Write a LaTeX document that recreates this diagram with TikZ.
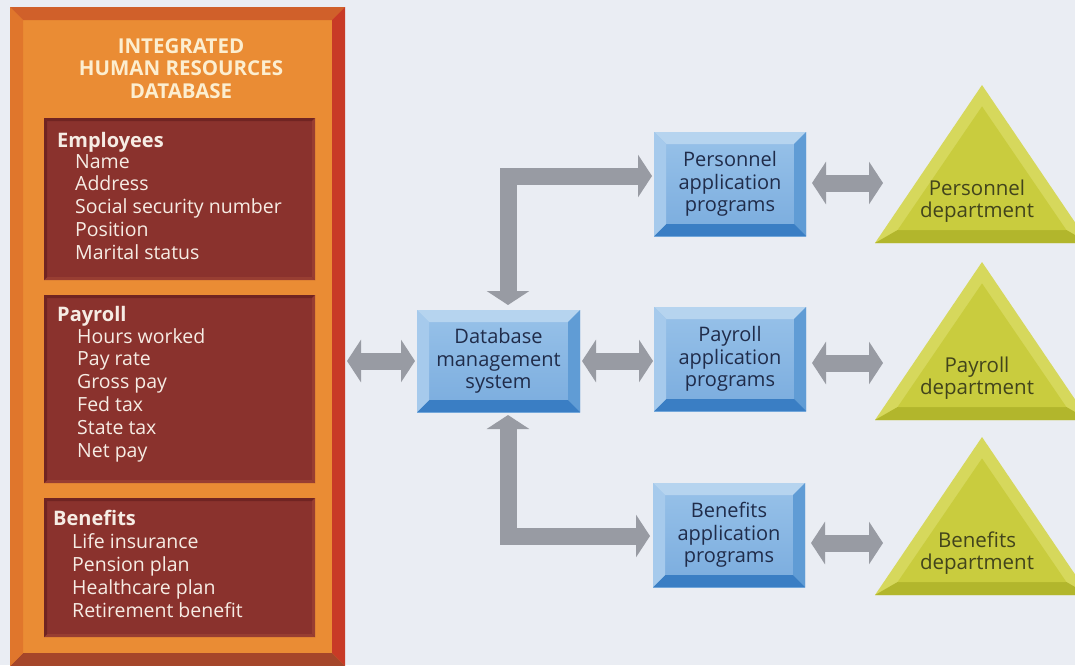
\documentclass[tikz,border=0pt]{standalone}
\usepackage{fontspec}
\setmainfont{Open Sans}
\usetikzlibrary{arrows.meta,calc}

\definecolor{paper}{RGB}{234,237,243}
\definecolor{orface}{RGB}{234,140,52}
\definecolor{ortop}{RGB}{208,96,42}
\definecolor{orright}{RGB}{200,58,38}
\definecolor{orbottom}{RGB}{165,70,42}
\definecolor{orleft}{RGB}{224,118,44}
\definecolor{maroon}{RGB}{138,50,45}
\definecolor{maroonhi}{RGB}{152,62,50}
\definecolor{maroonlo}{RGB}{112,36,34}
\definecolor{cream}{RGB}{252,238,208}
\definecolor{itemtext}{RGB}{246,236,228}
\definecolor{bluetop}{RGB}{152,194,233}
\definecolor{bluebot}{RGB}{122,172,222}
\definecolor{bluebtop}{RGB}{182,212,239}
\definecolor{bluebright}{RGB}{96,156,213}
\definecolor{bluebbot}{RGB}{58,126,196}
\definecolor{bluebleft}{RGB}{166,202,236}
\definecolor{bluetext}{RGB}{32,44,74}
\definecolor{trilight}{RGB}{214,216,92}
\definecolor{triface}{RGB}{201,204,62}
\definecolor{tridark}{RGB}{178,182,44}
\definecolor{tritext}{RGB}{66,68,28}
\definecolor{arrowgrey}{RGB}{152,155,163}

% four bevel bands around a rectangular node: node, width, top, right, bottom, left
\newcommand\bevelbox[6]{%
  \fill[#3] (#1.north west) -- (#1.north east) -- ($(#1.north east)+(-#2,#2)$) -- ($(#1.north west)+(#2,#2)$) -- cycle;
  \fill[#4] (#1.north east) -- (#1.south east) -- ($(#1.south east)+(-#2,-#2)$) -- ($(#1.north east)+(-#2,#2)$) -- cycle;
  \fill[#5] (#1.south east) -- (#1.south west) -- ($(#1.south west)+(#2,-#2)$) -- ($(#1.south east)+(-#2,-#2)$) -- cycle;
  \fill[#6] (#1.south west) -- (#1.north west) -- ($(#1.north west)+(#2,#2)$) -- ($(#1.south west)+(#2,-#2)$) -- cycle;
}

% bevelled department triangle: name, apex x, apex y, label
\newcommand\depttri[4]{%
  \path (#2,#3) coordinate (#1-a) ++(-107,158) coordinate (#1-l) ++(214,0) coordinate (#1-r);
  \fill[trilight] (#1-a) -- (#1-l) -- (#1-r) -- cycle;
  \fill[tridark] (#1-l) -- (#1-r) -- ($(#1-r)+(-22.6,-13)$) -- ($(#1-l)+(22.6,-13)$) -- cycle;
  \fill[triface] ($(#1-a)+(0,21.4)$) -- ($(#1-l)+(22.6,-13)$) -- ($(#1-r)+(-22.6,-13)$) -- cycle;
  \node[depttext] (#1) at ($(#1-a)+(-5,116)$) {#4};
}

\begin{document}
\begin{tikzpicture}[x=1pt,y=-1pt,
  panelbox/.style={fill=orface, inner sep=0, outer sep=0, anchor=north west},
  groupbox/.style={fill=maroon, inner sep=0, outer sep=0, anchor=north west},
  titletext/.style={text=cream, font=\fontsize{20.5}{22}\selectfont\bfseries, anchor=base, inner sep=0},
  headtext/.style={text=itemtext, font=\fontsize{20}{22}\selectfont\bfseries, anchor=base west, inner sep=0},
  itemtext/.style={text=itemtext, font=\fontsize{19.5}{22}\selectfont, anchor=base west, inner sep=0},
  appbox/.style={top color=bluetop, bottom color=bluebot, inner sep=0, outer sep=0,
    text=bluetext, align=center, font=\fontsize{20}{22.5}\selectfont},
  depttext/.style={text=tritext, align=center, font=\fontsize{20.5}{22.5}\selectfont, inner sep=0},
  garrow/.style={draw=arrowgrey, line width=17pt,
    {Triangle[width=42pt,length=14pt]}-{Triangle[width=42pt,length=14pt]}},
]
\useasboundingbox (0,0) rectangle (1075,665);
\fill[paper] (0,0) rectangle (1075,665);

% ---- database panel ----
\node[panelbox, minimum width=335pt, minimum height=659pt] (panel) at (10,7) {};
\bevelbox{panel}{13}{ortop}{orright}{orbottom}{orleft}

\node[titletext] (title1) at (181,53) {INTEGRATED};
\node[titletext] (title2) at (181,75.5) {HUMAN RESOURCES};
\node[titletext] (title3) at (181,98) {DATABASE};

\node[groupbox, minimum width=271pt, minimum height=162pt] (empbox) at (44,118) {};
\node[groupbox, minimum width=271pt, minimum height=188pt] (paybox) at (44,295) {};
\node[groupbox, minimum width=271pt, minimum height=139pt] (benbox) at (44,498) {};
\foreach \b in {empbox,paybox,benbox}{\bevelbox{\b}{3}{maroonlo}{maroonhi}{maroonhi}{maroonlo}}

\node[headtext] (emphead) at (57,147) {Employees};
\foreach \t [count=\i from 0] in {Name,Address,Social security number,Position,Marital status}
  \node[itemtext] (emp\i) at (75,168+22.75*\i) {\t};

\node[headtext] (payhead) at (57,321) {Payroll};
\foreach \t [count=\i from 0] in {Hours worked,Pay rate,Gross pay,Fed tax,State tax,Net pay}
  \node[itemtext] (pay\i) at (77,343+22.8*\i) {\t};

\node[headtext] (benhead) at (53,525) {Benefits};
\foreach \t [count=\i from 0] in {Life insurance,Pension plan,Healthcare plan,Retirement benefit}
  \node[itemtext] (ben\i) at (72,548+23*\i) {\t};

% ---- programs ----
\node[appbox, minimum width=163pt, minimum height=102pt] (dbms) at (498.5,361) {Database\\management\\system};
\node[appbox, minimum width=152pt, minimum height=104pt] (papp) at (730,184) {Personnel\\application\\programs};
\node[appbox, minimum width=152pt, minimum height=104pt] (yapp) at (730,359) {Payroll\\application\\programs};
\node[appbox, minimum width=152pt, minimum height=104pt] (bapp) at (729,535) {Benefits\\application\\programs};
\foreach \b in {dbms,papp,yapp,bapp}{\bevelbox{\b}{12}{bluebtop}{bluebright}{bluebbot}{bluebleft}}

% ---- departments ----
\depttri{pdep}{982}{85}{Personnel\\department}
\depttri{ydep}{982}{262}{Payroll\\department}
\depttri{bdep}{982}{437}{Benefits\\department}
\coordinate (pdep-in) at (883,183);
\coordinate (ydep-in) at (883,363);
\coordinate (bdep-in) at (883,543);

% ---- data flows ----
\draw[garrow] ([xshift=2pt]panel.east |- dbms.west) -- ([xshift=-2pt]dbms.west);
\draw[garrow] ([xshift=2pt]dbms.east) -- ([xshift=-1pt]dbms.east -| yapp.west);
\draw[garrow] ([xshift=9.5pt,yshift=5pt]dbms.north) |- ([xshift=-2pt,yshift=8pt]papp.west);
\draw[garrow] ([xshift=9.5pt,yshift=-3pt]dbms.south) |- ([xshift=-3pt,yshift=-1pt]bapp.west);
\draw[garrow] ([xshift=6pt]papp.east |- pdep-in) -- (pdep-in);
\draw[garrow] ([xshift=6pt]yapp.east |- ydep-in) -- (ydep-in);
\draw[garrow] ([xshift=6pt]bapp.east |- bdep-in) -- (bdep-in);
\end{tikzpicture}
\end{document}
